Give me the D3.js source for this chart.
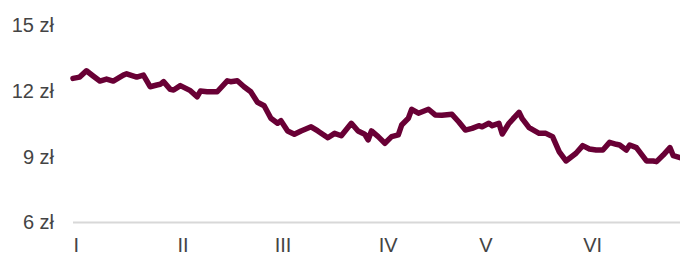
<!DOCTYPE html>
<html>
<head>
<meta charset="utf-8">
<script src="https://cdn.jsdelivr.net/npm/d3@7"></script>
<style>
  body { margin: 0; background: #fff; }
  svg { display: block; }
  text { font-family: "Liberation Sans", Arial, sans-serif; }
</style>
</head>
<body>
<div id="viz-container"></div>
<script>
// days since 1 Jan 2024 and closing price (zł)
let dayOffsets = [0, 2, 4, 6, 8, 10, 12, 15, 16, 19, 21, 23, 25, 26, 27, 29, 30, 32, 35, 37,
  38, 40, 43, 46, 47, 49, 51, 53, 55, 57, 59, 61, 62, 64, 66, 68, 71, 73, 76, 78,
  80, 83, 85, 87, 88, 89, 91, 93, 95, 97, 98, 100, 101, 103, 106, 108, 110, 113, 115, 117,
  119, 121, 122, 124, 125, 127, 128, 130, 133, 134, 136, 139, 141, 143, 145, 147, 150, 152, 154, 156,
  158, 160, 162, 163, 165, 166, 168, 171, 173, 174, 176, 178, 179, 181];
let prices = [12.58, 12.64, 12.93, 12.69, 12.46, 12.55, 12.46, 12.73, 12.79, 12.64, 12.73, 12.2, 12.28, 12.31, 12.43, 12.08, 12.05, 12.25, 12.02, 11.74,
  12.0, 11.97, 11.97, 12.47, 12.43, 12.47, 12.2, 11.97, 11.49, 11.33, 10.76, 10.53, 10.65, 10.18, 10.03, 10.18, 10.37, 10.18, 9.87, 10.07,
  9.96, 10.53, 10.18, 10.03, 9.77, 10.18, 9.92, 9.62, 9.92, 10.0, 10.45, 10.76, 11.17, 10.99, 11.17, 10.91, 10.9, 10.94, 10.6, 10.22,
  10.3, 10.42, 10.37, 10.53, 10.42, 10.53, 10.04, 10.53, 11.03, 10.73, 10.33, 10.07, 10.07, 9.92, 9.23, 8.81, 9.16, 9.51, 9.36, 9.31,
  9.31, 9.66, 9.57, 9.54, 9.31, 9.54, 9.42, 8.81, 8.81, 8.78, 9.08, 9.42, 9.05, 8.96];
let monthLabels = ["I", "II", "III", "IV", "V", "VI"];
let yTicks = [6, 9, 12, 15];

let w = 680;
let h = 253;
let startDate = new Date(2024, 0, 1);

let data = dayOffsets.map((d, i) => ({date: d3.timeDay.offset(startDate, d), value: prices[i]}));

let viz = d3.select("#viz-container")
    .append("svg")
    .attr("width", w)
    .attr("height", h);

let xScale = d3.scaleTime()
    .domain([startDate, d3.timeDay.offset(startDate, 181)])
    .range([73, 680]);

let yScale = d3.scaleLinear()
    .domain([6, 15])
    .range([222.5, 25.4]);

// baseline grid line
viz.append("line")
    .attr("x1", xScale.range()[0])
    .attr("x2", xScale.range()[1])
    .attr("y1", yScale(6))
    .attr("y2", yScale(6))
    .attr("stroke", "#d8d8d8")
    .attr("stroke-width", 2);

// y axis
let yAxis = d3.axisLeft(yScale)
    .tickValues(yTicks)
    .tickFormat(d => d + " zł")
    .tickSize(0)
    .tickPadding(0);
let yAxisGroup = viz.append("g")
    .attr("class", "yAxis")
    .attr("transform", "translate(54,0)")
    .call(yAxis);
yAxisGroup.select(".domain").remove();
yAxisGroup.selectAll("text")
    .attr("font-size", 20)
    .attr("font-family", "Liberation Sans, Arial, sans-serif")
    .attr("fill", "#444");

// x axis, month labels at month starts
let monthStarts = d3.timeMonth.range(startDate, new Date(2024, 6, 1));
let xAxis = d3.axisBottom(xScale)
    .tickValues(monthStarts)
    .tickFormat((d, i) => monthLabels[i])
    .tickSize(0)
    .tickPadding(0);
let xAxisGroup = viz.append("g")
    .attr("class", "xAxis")
    .attr("transform", "translate(0,236)")
    .call(xAxis);
xAxisGroup.select(".domain").remove();
xAxisGroup.selectAll("text")
    .attr("text-anchor", "start")
    .attr("dy", 0)
    .attr("y", 15.5)
    .attr("font-size", 20)
    .attr("font-family", "Liberation Sans, Arial, sans-serif")
    .attr("fill", "#444");

let lineGenerator = d3.line()
    .x(d => xScale(d.date))
    .y(d => yScale(d.value));

viz.append("path")
    .datum(data)
    .attr("fill", "none")
    .attr("stroke", "#690035")
    .attr("stroke-width", 5.5)
    .attr("stroke-linejoin", "round")
    .attr("stroke-linecap", "round")
    .attr("d", lineGenerator);
</script>
</body>
</html>
